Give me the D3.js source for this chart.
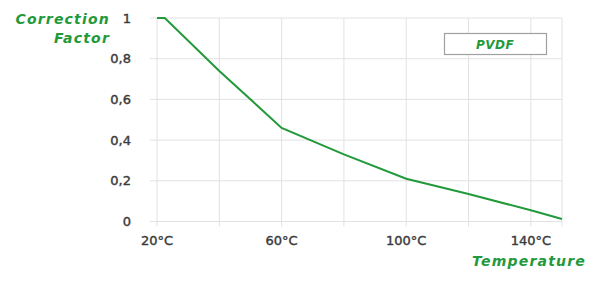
<!DOCTYPE html>
<html>
<head>
<meta charset="utf-8">
<script src="https://cdn.jsdelivr.net/npm/d3@7"></script>
<style>
  body { margin: 0; background: #fff; }
  text { font-family: "DejaVu Sans", Verdana, sans-serif; }
</style>
</head>
<body>
<svg id="chart" width="600" height="285"></svg>
<script>
'use strict';
// PVDF correction factor vs temperature
let temps = [20, 22.5, 40, 60, 80, 100, 120, 140, 150];
let factors = [1, 1, 0.74, 0.46, 0.33, 0.21, 0.135, 0.055, 0.012];
let xTicks = [20, 60, 100, 140];
let xGrid = [20, 40, 60, 80, 100, 120, 140, 150];
let yTicks = [0, 0.2, 0.4, 0.6, 0.8, 1];
let seriesName = "PVDF";

let green = "#22993a";
let svg = d3.select("#chart");

let x = d3.scaleLinear().domain([20, 150]).range([157, 562]);
let y = d3.scaleLinear().domain([0, 1]).range([221.5, 18]);

// horizontal gridlines
svg.append("g")
    .selectAll("line")
    .data(yTicks)
    .enter().append("line")
    .attr("x1", x(20) - 7)
    .attr("x2", x(150))
    .attr("y1", d => y(d))
    .attr("y2", d => y(d))
    .attr("stroke", "#e2e2e2")
    .attr("stroke-width", 1);

// vertical gridlines
svg.append("g")
    .selectAll("line")
    .data(xGrid)
    .enter().append("line")
    .attr("x1", d => x(d))
    .attr("x2", d => x(d))
    .attr("y1", y(1))
    .attr("y2", y(0) + 5)
    .attr("stroke", "#e2e2e2")
    .attr("stroke-width", 1);

// y tick labels
svg.append("g")
    .selectAll("text")
    .data(yTicks)
    .enter().append("text")
    .attr("x", 131)
    .attr("y", d => y(d) + 4.5)
    .attr("text-anchor", "end")
    .attr("font-size", 13)
    .attr("fill", "#3a3a3a")
    .attr("stroke", "#3a3a3a")
    .attr("stroke-width", 0.4)
    .text(d => d3.format(".1~f")(d).replace(".", ","));

// x tick labels
svg.append("g")
    .selectAll("text")
    .data(xTicks)
    .enter().append("text")
    .attr("x", d => x(d))
    .attr("y", 245)
    .attr("text-anchor", "middle")
    .attr("font-size", 13)
    .attr("fill", "#3a3a3a")
    .attr("stroke", "#3a3a3a")
    .attr("stroke-width", 0.4)
    .text(d => d + "°C");

// the curve
let line = d3.line()
    .x((d, i) => x(temps[i]))
    .y(d => y(d));

svg.append("path")
    .attr("d", line(factors))
    .attr("fill", "none")
    .attr("stroke", green)
    .attr("stroke-width", 2);

// axis titles
let yTitle = svg.append("text")
    .attr("text-anchor", "end")
    .attr("font-size", 14)
    .attr("font-weight", "bold")
    .attr("font-style", "italic")
    .attr("letter-spacing", 1.2)
    .attr("fill", green);
yTitle.append("tspan").attr("x", 110).attr("y", 24).text("Correction");
yTitle.append("tspan").attr("x", 110).attr("y", 43).text("Factor");

svg.append("text")
    .attr("x", 586)
    .attr("y", 266)
    .attr("text-anchor", "end")
    .attr("font-size", 14)
    .attr("font-weight", "bold")
    .attr("font-style", "italic")
    .attr("letter-spacing", 1.2)
    .attr("fill", green)
    .text("Temperature");

// legend
let legend = svg.append("g");
legend.append("rect")
    .attr("x", 444.5)
    .attr("y", 33.5)
    .attr("width", 102)
    .attr("height", 21)
    .attr("fill", "#fff")
    .attr("stroke", "#a0a0a0")
    .attr("stroke-width", 1.2);
legend.append("text")
    .attr("x", 495)
    .attr("y", 48.5)
    .attr("text-anchor", "middle")
    .attr("font-size", 12)
    .attr("font-weight", "bold")
    .attr("font-style", "italic")
    .attr("letter-spacing", 0.5)
    .attr("fill", green)
    .text(seriesName);
</script>
</body>
</html>
